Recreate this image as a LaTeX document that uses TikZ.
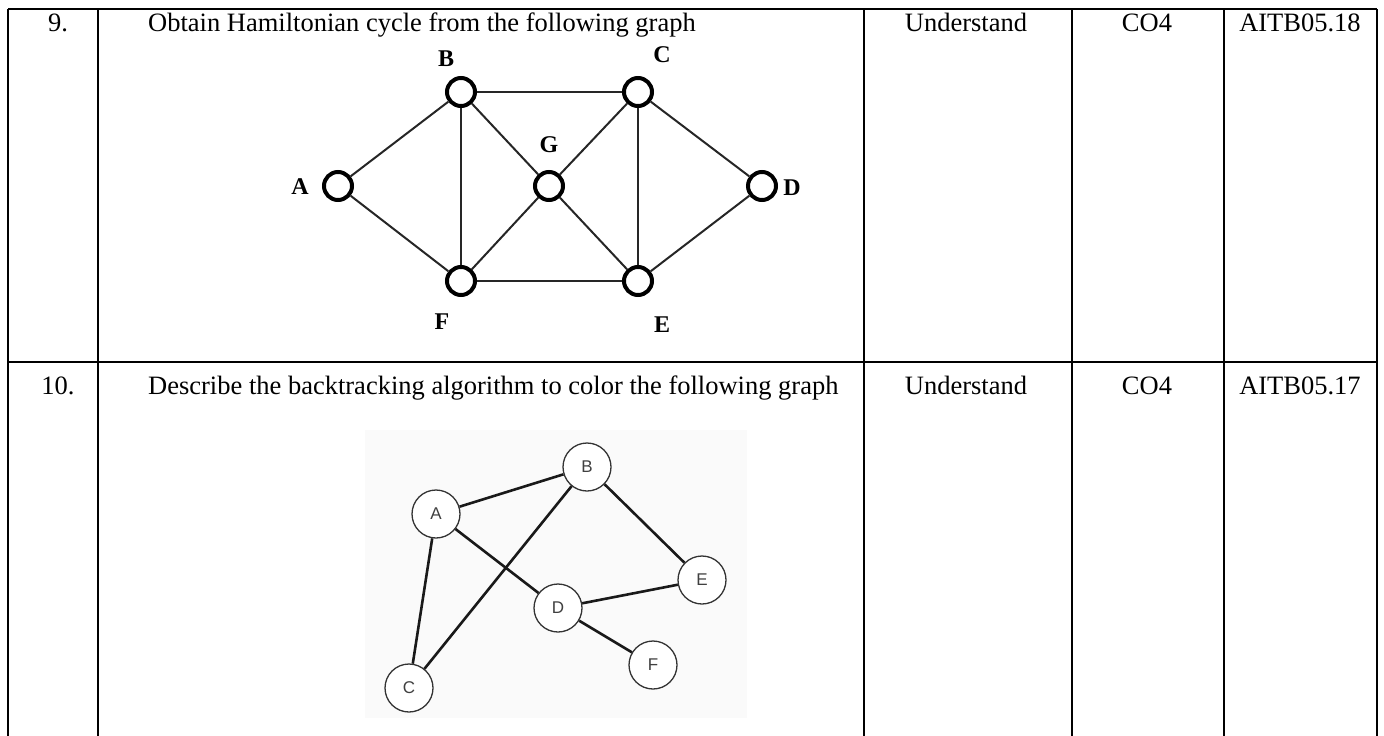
\documentclass[tikz,border=0pt]{standalone}
\usepackage{fontspec}
\setmainfont{Liberation Serif}
\newfontfamily\helv{Liberation Sans}
\begin{document}
\begin{tikzpicture}[x=1pt,y=-1pt,
  rule/.style={line width=1.8pt,black},
  celltext/.style={inner sep=0pt,anchor=base,font=\fontsize{26.5}{28}\selectfont},
  hv/.style={circle,draw=black,line width=4pt,fill=white,minimum size=28pt,inner sep=0pt},
  hlab/.style={inner sep=0pt,font=\fontsize{24}{26}\selectfont\bfseries},
  hedge/.style={line width=2pt,black!85},
  cv/.style={circle,draw=black!80,line width=1.3pt,fill=white,minimum size=48pt,inner sep=0pt,font=\fontsize{17}{20}\selectfont\helv,text=black!75},
  cedge/.style={line width=2.6pt,black!90}]
\useasboundingbox (0,0) rectangle (1384,736);
% table rules
\draw[rule] (8,9) -- (1377,9);
\draw[rule] (8,362) -- (1377,362);
\foreach \x in {8,98,864,1072,1224,1377}{\draw[rule] (\x,9) -- (\x,736);}
% row 9
\node[celltext] (n9) at (58,31) {9.};
\node[celltext,anchor=base west] (q9) at (148,31) {Obtain Hamiltonian cycle from the following graph};
\node[celltext] (u9) at (966,31) {Understand};
\node[celltext] (c9) at (1147,31) {CO4};
\node[celltext] (a9) at (1300,31) {AITB05.18};
% row 10
\node[celltext] (n10) at (58,394) {10.};
\node[celltext,anchor=base west] (q10) at (148,394) {Describe the backtracking algorithm to color the following graph};
\node[celltext] (u10) at (966,394) {Understand};
\node[celltext] (c10) at (1147,394) {CO4};
\node[celltext] (a10) at (1300,394) {AITB05.17};
% graph 1
\node[hv] (hA) at (338,186) {};
\node[hv] (hB) at (461,92) {};
\node[hv] (hC) at (638,92) {};
\node[hv] (hG) at (549,186) {};
\node[hv] (hD) at (762,186) {};
\node[hv] (hF) at (461,281) {};
\node[hv] (hE) at (638,281) {};
\foreach \a/\b in {hA/hB,hA/hF,hB/hC,hB/hG,hB/hF,hC/hG,hC/hE,hC/hD,hG/hF,hG/hE,hF/hE,hD/hE}{\draw[hedge] (\a) -- (\b);}
\node[hlab] (lA) at (300,187) {A};
\node[hlab] (lB) at (446,59) {B};
\node[hlab] (lC) at (662,55) {C};
\node[hlab] (lG) at (549,145) {G};
\node[hlab] (lD) at (792,188) {D};
\node[hlab] (lF) at (442,322) {F};
\node[hlab] (lE) at (662,325) {E};
% graph 2
\fill[black!2] (365,430) rectangle (747,718);
\node[cv] (cA) at (436,514) {A};
\node[cv] (cB) at (587,467) {B};
\node[cv] (cE) at (702,580) {E};
\node[cv] (cD) at (558,608) {D};
\node[cv] (cF) at (653,665) {F};
\node[cv] (cC) at (409,688) {C};
\foreach \a/\b in {cA/cB,cA/cD,cA/cC,cB/cC,cB/cE,cD/cE,cD/cF}{\draw[cedge] (\a) -- (\b);}
\end{tikzpicture}
\end{document}
